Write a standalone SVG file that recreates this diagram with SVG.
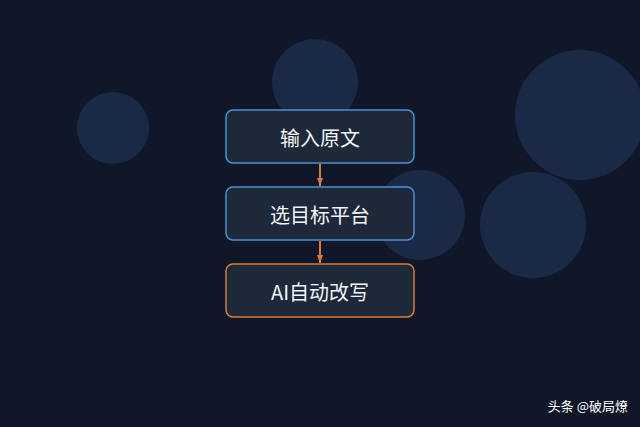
<svg xmlns="http://www.w3.org/2000/svg" width="640" height="427" viewBox="0 0 640 427">
<defs>
<style>
.bub{fill:#1f3150;opacity:0.75}
.box{fill:#1d2838;stroke-width:1.5}
.blue{stroke:#4f8fd8}
.org{stroke:#e07a30}
.lbl{font-family:"Noto Sans CJK SC","Liberation Sans",sans-serif;font-size:20px;fill:#f2f5f9;text-anchor:middle;dominant-baseline:central}
.wm{font-family:"Noto Sans CJK SC","Liberation Sans",sans-serif;font-size:13px;fill:#ffffff;text-anchor:end}
.conn{stroke:#e07a30;stroke-width:2;fill:none}
</style>
<marker id="ah" viewBox="0 0 8 6" refX="8" refY="3" markerWidth="8" markerHeight="6" orient="auto" markerUnits="userSpaceOnUse">
<path d="M0,0 L8,3 L0,6 Z" fill="#e07a30"/>
</marker>
</defs>
<rect width="640" height="427" fill="#0f1729"/>
<circle class="bub" cx="113" cy="128" r="36"/>
<circle class="bub" cx="315" cy="82" r="43"/>
<circle class="bub" cx="580" cy="115" r="65"/>
<circle class="bub" cx="420" cy="215" r="45"/>
<circle class="bub" cx="533" cy="225" r="53"/>
<g id="connectors">
<line class="conn" x1="320" y1="164" x2="320" y2="186" marker-end="url(#ah)"/>
<line class="conn" x1="320" y1="241" x2="320" y2="263" marker-end="url(#ah)"/>
</g>
<g id="node1">
<rect class="box blue" x="226" y="110" width="188" height="53" rx="7"/>
<text class="lbl" x="320" y="137">输入原文</text>
</g>
<g id="node2">
<rect class="box blue" x="226" y="187" width="188" height="53" rx="7"/>
<text class="lbl" x="320" y="214">选目标平台</text>
</g>
<g id="node3">
<rect class="box org" x="226" y="264" width="188" height="53" rx="7"/>
<text class="lbl" x="320" y="291">AI自动改写</text>
</g>
<text class="wm" x="628" y="411">头条 @破局燎</text>
</svg>
